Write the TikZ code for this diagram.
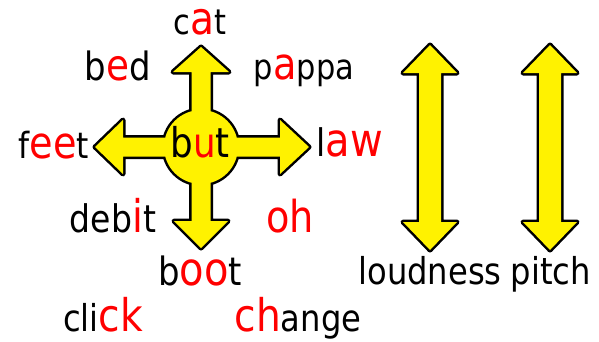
\documentclass[tikz,border=0pt]{standalone}
\usepackage{fontspec}
\setmainfont[FakeStretch=0.87]{DejaVu Sans}
\newcommand\rd[2]{{\fontsize{#1}{#1}\selectfont\color{red}#2}}
\newcommand\bk[1]{\fontsize{#1}{#1}\selectfont}
\begin{document}
\begin{tikzpicture}[x=1pt,y=-1pt,
  word/.style={anchor=base,inner sep=0pt,outer sep=0pt},
  outl/.style={draw=black,line width=5pt,line join=round},
  yfill/.style={fill=yellow}]
\useasboundingbox (0,0) rectangle (599,341);
% central cross
\begin{scope}[shift={(201,147)}]
\path[outl] (-9.5,-75) -- (-28,-75) -- (0,-100) -- (28,-75) -- (9.5,-75) -- (9.5,-9.5)
  -- (79,-9.5) -- (79,-27) -- (108,0) -- (79,27) -- (79,9.5) -- (9.5,9.5)
  -- (9.5,74) -- (27,74) -- (0,101) -- (-27,74) -- (-9.5,74) -- (-9.5,9.5)
  -- (-78,9.5) -- (-78,27) -- (-106,0) -- (-78,-27) -- (-78,-9.5) -- (-9.5,-9.5) -- cycle
  (0,0) circle (37);
\path[yfill] (-9.5,-75) -- (-28,-75) -- (0,-100) -- (28,-75) -- (9.5,-75) -- (9.5,-9.5)
  -- (79,-9.5) -- (79,-27) -- (108,0) -- (79,27) -- (79,9.5) -- (9.5,9.5)
  -- (9.5,74) -- (27,74) -- (0,101) -- (-27,74) -- (-9.5,74) -- (-9.5,9.5)
  -- (-78,9.5) -- (-78,27) -- (-106,0) -- (-78,-27) -- (-78,-9.5) -- (-9.5,-9.5) -- cycle
  (0,0) circle (37);
\end{scope}
% vertical arrows
\foreach \cx in {430,550}{
\begin{scope}[shift={(\cx,0)}]
\path[outl] (-11,73) -- (-27,73) -- (0,45) -- (27,73) -- (11,73) -- (11,222) -- (27,222) -- (0,250) -- (-27,222) -- (-11,222) -- cycle;
\path[yfill] (-11,73) -- (-27,73) -- (0,45) -- (27,73) -- (11,73) -- (11,222) -- (27,222) -- (0,250) -- (-27,222) -- (-11,222) -- cycle;
\end{scope}}
% words
\node[word] (cat) at (200,34) {\bk{35}c\rd{45}{a}t};
\node[word] (bed) at (118,80) {\bk{39}b\rd{43}{e}d};
\node[word] (pappa) at (304,79) {\bk{35}p\rd{44}{a}ppa};
\node[word] (feet) at (54,158) {\bk{36}f\rd{44}{ee}t};
\node[word] (but) at (200,157) {\bk{41}b\rd{41}{u}t};
\node[word] (law) at (350,156) {\bk{38}l\rd{46}{aw}};
\node[word] (debit) at (113,232) {\bk{38}deb\rd{45}{i}t};
\node[word] (oh) at (290,232) {\rd{44}{oh}};
\node[word] (boot) at (200,285) {\bk{39}b\rd{46}{oo}t};
\node[word] (click) at (103,331) {\bk{37}cli\rd{45}{ck}};
\node[word] (change) at (298,331) {\bk{37}\rd{45}{ch}ange};
\node[word] (loudness) at (430,284) {\bk{37}loudness};
\node[word] (pitch) at (551,284) {\bk{37}pitch};
\end{tikzpicture}
\end{document}
